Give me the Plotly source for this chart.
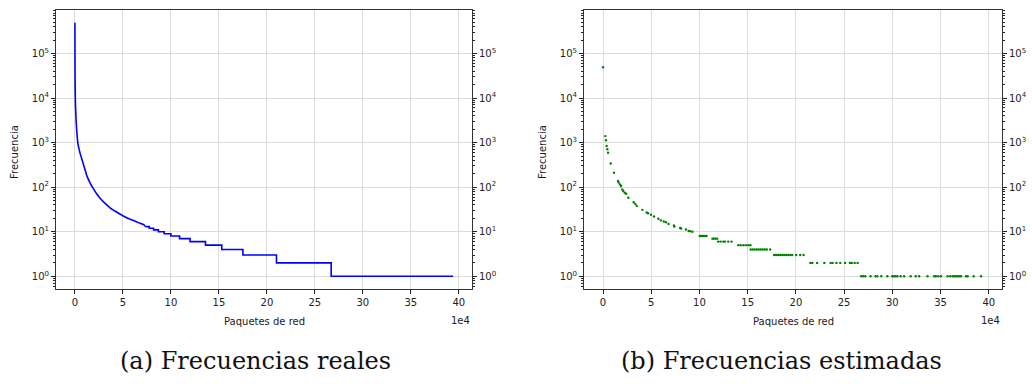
import plotly.graph_objects as go

# ---------------- data (x in units of 1e4 packets) ----------------
real_curve_x = [0, 0.01, 0.04, 0.1, 0.18, 0.3, 0.5, 0.76, 1.0, 1.28, 1.6, 1.97, 2.3,
                2.67, 3.2, 3.7, 4.3, 5.0, 5.5, 6.1, 6.6, 7.2, 7.35]
real_curve_y = [490000, 50000, 10000, 4000, 2000, 1000, 620, 400, 270, 172, 122, 89, 69,
                55, 42, 34, 28, 22.8, 20, 17.8, 16, 14.3, 13]
real_step_x = [7.35, 7.75, 8.2, 8.7, 9.3, 10.0, 10.9, 12.0, 13.6, 15.3, 17.5, 21.0, 26.7, 39.4]
real_step_y = [13, 12, 11, 10, 9, 8, 7, 6, 5, 4, 3, 2, 1, 1]

est_x = [0, 0.24, 0.31, 0.38, 0.45, 0.52, 0.8, 1.14, 1.56, 1.62, 1.76, 1.87, 2.0, 2.1, 2.25,
         2.4, 2.63, 3.18, 3.35, 3.5, 4.08, 4.53, 4.67, 4.98, 5.29, 5.74, 6.0, 6.3, 6.53, 6.8,
         7.36, 7.4, 8.0, 8.1, 8.6, 8.88, 9.05, 9.27,
         10.03, 10.17, 10.31, 10.45, 10.59, 10.73,
         11.35, 11.49, 11.67, 11.84,
         11.94, 12.19, 12.47, 12.64, 12.99, 13.33,
         14.03, 14.27, 14.55, 14.8, 15.07, 15.28,
         15.31, 15.52, 15.73, 15.94, 16.15, 16.35, 16.56, 16.77, 16.98, 17.33,
         17.74, 17.95, 18.16, 18.37, 18.58, 18.78, 18.99, 19.2, 19.41, 19.62, 20.03, 20.45, 20.8,
         21.5, 21.7, 22.2, 22.95, 23.6, 23.8, 24.2, 24.6, 25.1, 25.6, 25.8, 26.1, 26.4,
         26.77, 26.98, 27.19, 27.74, 28.26, 28.44, 28.85, 29.48, 30.0, 30.17, 30.35, 30.52,
         30.87, 31.22, 31.91, 32.43, 32.78, 33.65, 34.34, 34.51, 34.76, 35.03, 35.73, 36.0,
         36.25, 36.42, 36.6, 36.77, 36.94, 37.12, 37.64, 37.81, 38.44, 39.2]
est_y = [49000, 1400, 1130, 840, 710, 590, 340, 210, 137, 127, 115, 106, 89, 82, 75,
         71, 58, 46, 42, 38, 31, 27, 26, 24, 22, 19.5, 18, 17, 16.3, 15,
         13.8, 13, 12.2, 11.8, 11.2, 10.4, 10.3, 10,
         8, 8, 8, 8, 8, 8,
         7, 7, 7, 7,
         6, 6, 6, 6, 6, 6,
         5, 5, 5, 5, 5, 5,
         4, 4, 4, 4, 4, 4, 4, 4, 4, 4,
         3, 3, 3, 3, 3, 3, 3, 3, 3, 3, 3, 3, 3,
         2, 2, 2, 2, 2, 2, 2, 2, 2, 2, 2, 2, 2,
         1, 1, 1, 1, 1, 1, 1, 1, 1, 1, 1, 1,
         1, 1, 1, 1, 1, 1, 1, 1, 1, 1, 1, 1,
         1, 1, 1, 1, 1, 1, 1, 1, 1, 1]

x_ticks = [0, 5, 10, 15, 20, 25, 30, 35, 40]
y_ticks = [1, 10, 100, 1000, 10000, 100000]
y_ticktext = ["10<sup>0</sup>", "10<sup>1</sup>", "10<sup>2</sup>", "10<sup>3</sup>",
              "10<sup>4</sup>", "10<sup>5</sup>"]
minor_vals = [k * 10 ** d for d in range(-1, 6) for k in range(2, 10)]

captions = ["(a) Frecuencias reales", "(b) Frecuencias estimadas"]
x_title = "Paquetes de red"
y_title = "Frecuencia"
offset_text = "1e4"

# ---------------- figure ----------------
W, H = 1032, 384
fig = go.Figure()
fig.add_trace(go.Scatter(x=real_curve_x, y=real_curve_y, mode="lines", line_shape="spline",
                         line=dict(color="blue", width=1.6, smoothing=0.6),
                         xaxis="x", yaxis="y", showlegend=False))
fig.add_trace(go.Scatter(x=real_step_x, y=real_step_y, mode="lines", line_shape="hv",
                         line=dict(color="blue", width=1.6), xaxis="x", yaxis="y",
                         showlegend=False))
fig.add_trace(go.Scatter(x=est_x, y=est_y, mode="markers",
                         marker=dict(color="green", size=2.4, line=dict(width=0)),
                         xaxis="x2", yaxis="y2", showlegend=False))
# transparent copies so the mirrored right-hand log axes get drawn
fig.add_trace(go.Scatter(x=real_step_x, y=real_step_y, mode="lines", opacity=0,
                         hoverinfo="skip", xaxis="x", yaxis="y3", showlegend=False))
fig.add_trace(go.Scatter(x=est_x, y=est_y, mode="markers", opacity=0,
                         hoverinfo="skip", xaxis="x2", yaxis="y4", showlegend=False))

tickfont = dict(family="DejaVu Sans", size=10, color="#222")
xrng = [-1.97, 41.37]
yrng = [-0.285, 5.975]
dom1 = [56 / W, 472 / W]
dom2 = [584 / W, 1002 / W]

def xax(dom, anchor):
    return dict(domain=dom, anchor=anchor, range=xrng, tickvals=x_ticks,
                ticks="outside", ticklen=4, tickcolor="#222", tickfont=tickfont,
                showgrid=True, gridcolor="#dcdcdc", gridwidth=1, zeroline=False,
                showline=True, linecolor="#333", linewidth=1, mirror=True,
                automargin=False)

def yax(anchor, side="left", overlay=None, grid=True):
    d = dict(type="log", range=yrng, anchor=anchor, side=side,
             tickvals=y_ticks, ticktext=y_ticktext, ticks="outside", ticklen=4,
             tickcolor="#222", tickfont=tickfont,
             minor=dict(tickvals=minor_vals, ticks="outside", ticklen=2,
                        tickcolor="#222", showgrid=False),
             showgrid=grid, gridcolor="#dcdcdc", gridwidth=1, zeroline=False,
             showline=True, linecolor="#333", linewidth=1, automargin=False)
    if overlay:
        d["overlaying"] = overlay
    return d

fig.update_layout(
    width=W, height=H,
    margin=dict(l=0, r=0, t=10, b=95),
    paper_bgcolor="white", plot_bgcolor="white",
    xaxis=xax(dom1, "y"),
    xaxis2=xax(dom2, "y2"),
    yaxis=yax("x"),
    yaxis2=yax("x2"),
    yaxis3=yax("x", side="right", overlay="y", grid=False),
    yaxis4=yax("x2", side="right", overlay="y2", grid=False),
)

PH = 289 - 10
def py(p):
    return (289 - p) / PH

ann = []
lab = dict(family="DejaVu Sans", size=10, color="#222")
for dom in [dom1, dom2]:
    mid = (dom[0] + dom[1]) / 2
    ann.append(dict(text=x_title, x=mid, y=py(321), xref="paper", yref="paper",
                    showarrow=False, font=lab, xanchor="center", yanchor="middle"))
    ann.append(dict(text=offset_text, x=dom[1], y=py(320), xref="paper", yref="paper",
                    showarrow=False, font=lab, xanchor="right", yanchor="middle"))
for i, (dom, cx) in enumerate([(dom1, 255), (dom2, 781)]):
    ann.append(dict(text=y_title, x=(dom[0] * W - 41) / W, y=py(152), xref="paper",
                    yref="paper", showarrow=False, font=lab, textangle=-90,
                    xanchor="center", yanchor="middle"))
    ann.append(dict(text=captions[i], x=cx / W, y=py(361), xref="paper", yref="paper",
                    showarrow=False,
                    font=dict(family="DejaVu Serif", size=24, color="#111"),
                    xanchor="center", yanchor="middle"))
fig.update_layout(annotations=ann)

fig.write_html("out.html", config={"displayModeBar": False},
               post_script="document.body.style.margin='0px';")
